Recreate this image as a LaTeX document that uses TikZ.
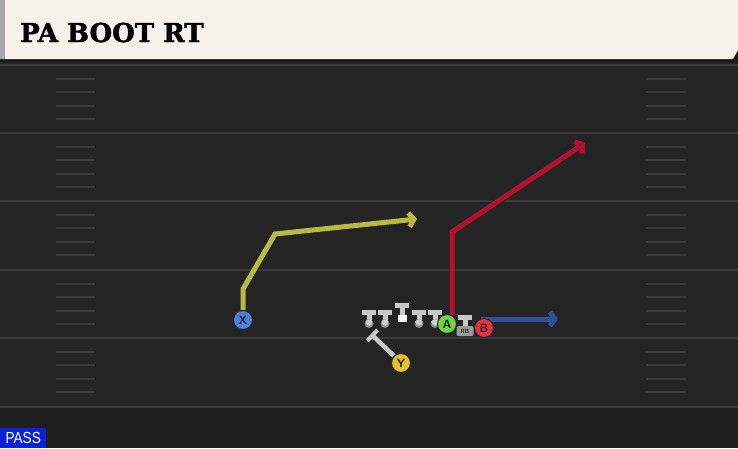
\documentclass[tikz,border=0pt]{standalone}
\usepackage{fontspec}
\usetikzlibrary{arrows.meta}
\newfontfamily\titlefont[BoldFeatures={FakeBold=1.6}]{DejaVu Serif}
\newfontfamily\tagfont{Liberation Sans}

\definecolor{field}{HTML}{242424}
\definecolor{fieldlow}{HTML}{1E1E1E}
\definecolor{yardline}{HTML}{3A3A3A}
\definecolor{header}{HTML}{F4F2EB}
\definecolor{routeyel}{HTML}{B8B842}
\definecolor{routered}{HTML}{B3122F}
\definecolor{routeblue}{HTML}{2F509E}
\definecolor{blockgray}{HTML}{C8C8C8}
\definecolor{xblue}{HTML}{4D80E0}
\definecolor{yyellow}{HTML}{E6C02A}
\definecolor{agreen}{HTML}{72D24A}
\definecolor{bred}{HTML}{E2323F}
\definecolor{passblue}{HTML}{0A22D8}

\pgfdeclarelayer{fieldlayer}
\pgfdeclarelayer{routelayer}
\pgfsetlayers{fieldlayer,routelayer,main}

\tikzset{
	route/.style={line width=5pt, line join=miter,
		-{Straight Barb[length=5pt, width=14pt]},
		preaction={draw=black!85, line width=7pt, -{}}},
	player/.style={circle, draw=black!85, line width=1pt, minimum size=19pt,
		inner sep=0pt, font=\sffamily\bfseries\fontsize{12}{12}\selectfont,
		text=black!85},
	lineman/.style={fill=blockgray}
}

\begin{document}
\begin{tikzpicture}[x=1pt, y=-1pt]
	\def\W{738}
	\def\H{448}
	\def\yGap{13.6} %Hash spacing
	
	\useasboundingbox (0,0) rectangle (\W,\H);
	
	%Feld
	\begin{pgfonlayer}{fieldlayer}
	\fill[field] (0,0) rectangle (\W,\H);
	\fill[fieldlow] (0,407) rectangle (\W,\H);
	\foreach \y in {65,133,201,270,338,407}
		\draw[yardline, line width=2.5pt] (0,\y) -- (\W,\y);
	\foreach \y in {65,133,201,270,338}
		\foreach \k in {1,...,4} {
			\draw[yardline, line width=2pt] (56,\y+\yGap*\k) -- (95,\y+\yGap*\k);
			\draw[yardline, line width=2pt] (646,\y+\yGap*\k) -- (686,\y+\yGap*\k);
		}
	\end{pgfonlayer}
	
	%Kopf
	\fill[black!90] (0,0) rectangle (\W,62);
	\fill[header] (0,0) -- (\W,0) -- (\W,50) -- (733,59) -- (0,59) -- cycle;
	\fill[black!35] (0,0) rectangle (5,59);
	\node[anchor=base west, inner sep=0pt,
		font=\titlefont\bfseries\fontsize{26}{26}\selectfont] (title) at (20,42) {PA BOOT RT};
	
	%Linie
	\foreach \x in {369,385,419,435} {
		\fill[lineman] (\x-7,309.5) rectangle (\x+7,314.5);
		\fill[lineman] (\x-2.5,314) rectangle (\x+2.5,321);
		\fill[black!45] (\x,323.5) circle (4.5);
		\fill[black!20] (\x,322.5) circle (3.2);
	}
	\fill[lineman] (395,303) rectangle (409,308);
	\fill[lineman] (399.5,308) rectangle (404.5,315);
	\fill[white] (397.5,315) rectangle (406.5,322);
	
	%RB
	\fill[lineman] (458,315) rectangle (472,320);
	\fill[lineman] (462.5,319.5) rectangle (467.5,326);
	\node[fill=black!40, rounded corners=2pt, inner sep=1pt, minimum width=17pt,
		minimum height=10pt, font=\sffamily\bfseries\fontsize{6}{6}\selectfont,
		text=black!85] (rb) at (465,331) {RB};
	
	%Spieler
	\node[player, fill=xblue] (X) at (243,320) {X};
	\node[player, fill=yyellow] (Y) at (401,363) {Y};
	\node[player, fill=agreen] (A) at (447,324) {A};
	\node[player, fill=bred] (B) at (484,328) {B};
	
	\coordinate (xStem) at (243,289);
	\coordinate (xBreak) at (275,234);
	\coordinate (xEnd) at (417,219);
	\coordinate (aBreak) at (452,232);
	\coordinate (aEnd) at (585,143);
	\coordinate (bEnd) at (558,319);
	\coordinate (yEnd) at (371,334);
	
	%Routen
	\begin{pgfonlayer}{routelayer}
	\draw[route, routeyel] (X.north) -- (xStem) -- (xBreak) -- (xEnd);
	\draw[route, routered] (A.60) -- (A.60 |- aBreak) -- (aEnd);
	\draw[route, routeblue] (B.110 |- bEnd) -- (bEnd);
	\draw[blockgray, line width=4.5pt, -{Bar[width=15pt, line width=4pt]}]
		(Y.north west) -- (yEnd);
	\end{pgfonlayer}
	
	%Pass
	\node[fill=passblue, anchor=south west, inner xsep=2pt, inner ysep=1pt,
		text=white, font=\tagfont\fontsize{16}{16}\selectfont,
		minimum height=20pt, minimum width=46pt] (pass) at (0,448)
		{\scalebox{0.85}[1]{PASS}};
\end{tikzpicture}
\end{document}
